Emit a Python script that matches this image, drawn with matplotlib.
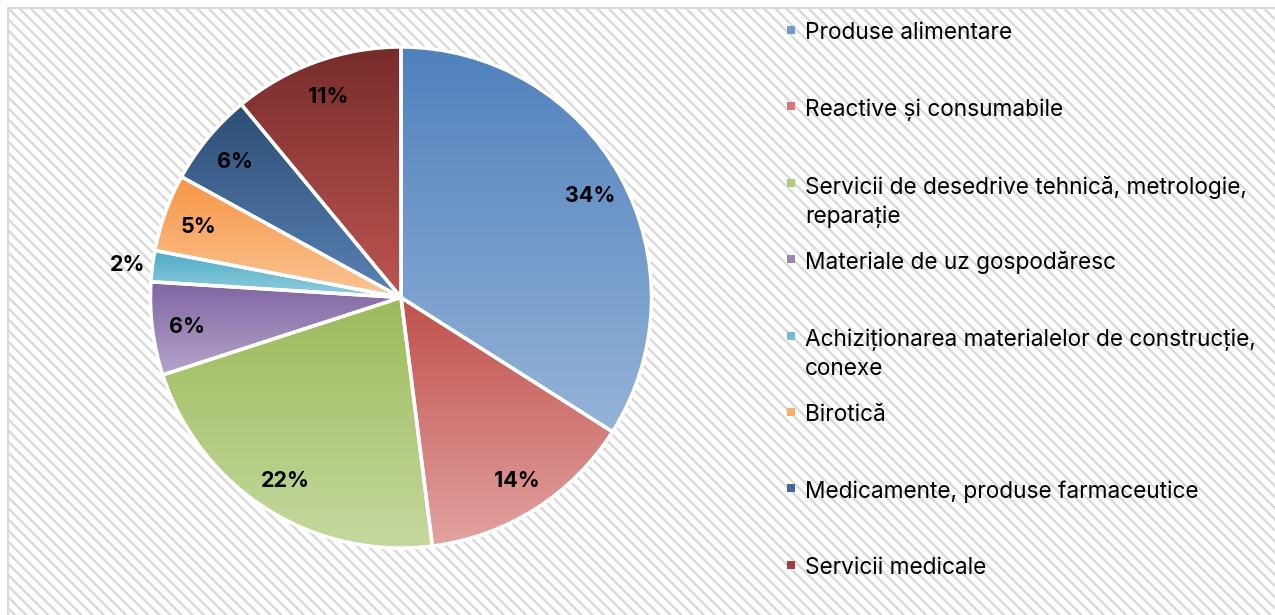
import matplotlib.pyplot as plt
import numpy as np
from matplotlib.colors import to_rgb
from matplotlib.patches import Rectangle

categories = [
    'Produse alimentare',
    'Reactive și consumabile',
    'Servicii de desedrive tehnică, metrologie,\nreparație',
    'Materiale de uz gospodăresc',
    'Achiziționarea materialelor de construcție,\nconexe',
    'Birotică',
    'Medicamente, produse farmaceutice',
    'Servicii medicale',
]
values = [34, 14, 22, 6, 2, 5, 6, 11]
top_colors = ['#4f81bd', '#c0504d', '#9bbb59', '#8064a2', '#4bacc6', '#f79646', '#2c4d75', '#772c2a']
bottom_colors = ['#95b3d7', '#e3a3a1', '#c5d89f', '#b4a5c9', '#93cddd', '#fbc493', '#5a82b5', '#bd5552']

plt.rcParams['font.family'] = ['Inter', 'DejaVu Sans']

W, H = 1275, 615
fig = plt.figure(figsize=(W / 100, H / 100), dpi=100)

# hatched chart area
plt.rcParams['hatch.linewidth'] = 1.7
plt.rcParams['hatch.color'] = '#ededed'
bg = Rectangle((8 / W, -0.05), 1, 1.05 - 8 / H, transform=fig.transFigure, facecolor='white',
               edgecolor='#d9d9d9', hatch='\\\\\\', linewidth=1.5, zorder=-10)
fig.patches.append(bg)

cx, cy, r = 401, 297.5, 250.5
ax = fig.add_axes([(cx - r) / W, (H - cy - r) / H, 2 * r / W, 2 * r / H])
ax.set_facecolor('none')

wedges, _ = ax.pie(values, startangle=90, counterclock=False, radius=1,
                   wedgeprops=dict(facecolor='none', edgecolor='white', linewidth=2.5))

for w, c0, c1 in zip(wedges, top_colors, bottom_colors):
    ext = w.get_path().get_extents()
    grad = np.linspace(0, 1, 256)[:, None, None]
    img = (1 - grad) * np.array(to_rgb(c0)) + grad * np.array(to_rgb(c1))
    im = ax.imshow(img, extent=[ext.x0, ext.x1, ext.y0, ext.y1], origin='upper',
                   aspect='auto', interpolation='bilinear', zorder=1)
    im.set_clip_path(w)
    w.set_zorder(2)

for w, v in zip(wedges, values):
    ang = np.deg2rad((w.theta1 + w.theta2) / 2)
    d = 1.1 if v < 3 else 0.86
    ax.text(d * np.cos(ang), d * np.sin(ang), f'{v}%', ha='center', va='center_baseline',
            fontsize=15.5, fontweight='bold', color='black', zorder=3)

ax.set_xlim(-1, 1)
ax.set_ylim(-1, 1)
ax.set_aspect('equal')
ax.axis('off')

# legend
for i, (lab, c0, c1) in enumerate(zip(categories, top_colors, bottom_colors)):
    y = 30 + i * 76.4
    mid = (np.array(to_rgb(c0)) + np.array(to_rgb(c1))) / 2
    fig.patches.append(Rectangle((787 / W, (H - y - 4) / H), 8 / W, 8 / H,
                                 transform=fig.transFigure, facecolor=mid, edgecolor='none', zorder=2))
    if '\n' in lab:
        fig.text(805 / W, (H - y + 7) / H, lab, ha='left', va='top',
                 fontsize=16.3, color='black', linespacing=1.4)
    else:
        fig.text(805 / W, (H - y - 3) / H, lab, ha='left', va='center',
                 fontsize=16.3, color='black')

fig.savefig('out.png', dpi=100)
